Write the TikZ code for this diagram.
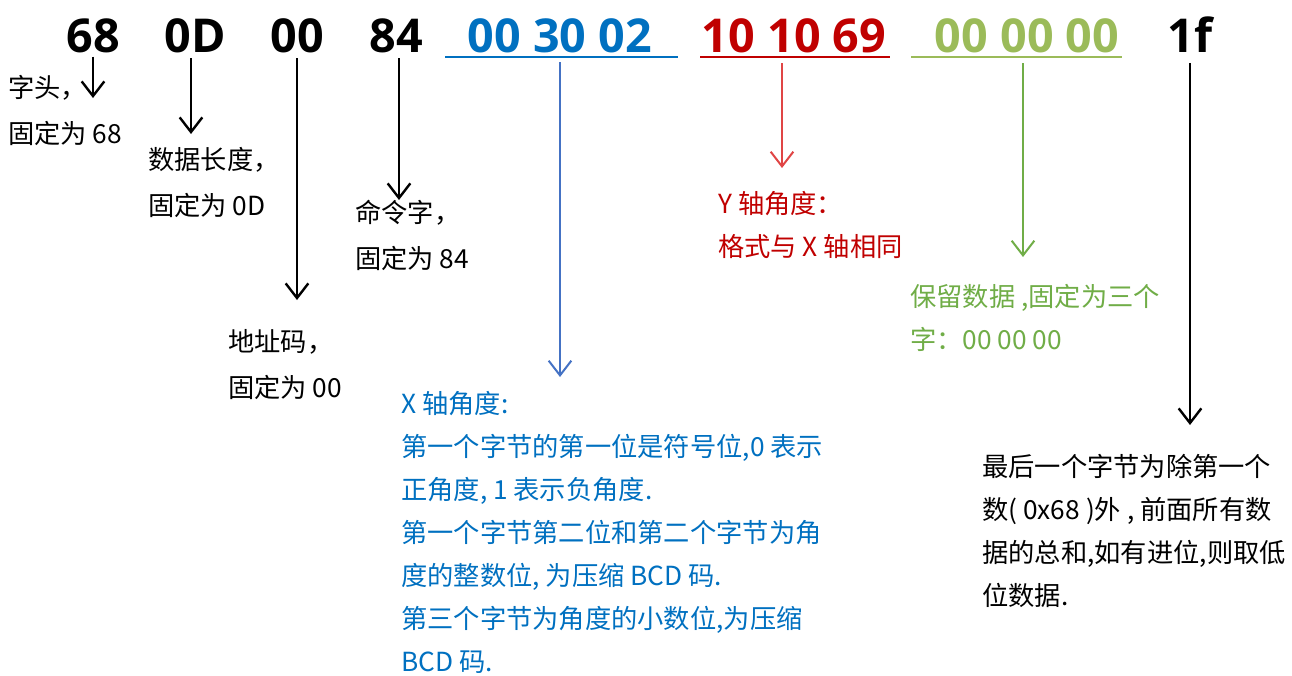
\documentclass[tikz,border=0pt]{standalone}
\usepackage{fontspec}
\setmainfont{Noto Sans CJK SC}
\newfontfamily\hexfont{Open Sans}
\usetikzlibrary{arrows.meta}
\definecolor{hexblue}{HTML}{0070C0}
\definecolor{hexred}{HTML}{C00000}
\definecolor{hexgreen}{HTML}{9BBB59}
\definecolor{notegreen}{HTML}{70AD47}
\definecolor{arrblue}{HTML}{4472C4}
\definecolor{arrred}{HTML}{E04545}

\begin{document}
\begin{tikzpicture}[x=0.75pt,y=-0.75pt,
	hex/.style={font=\hexfont\bfseries\fontsize{35}{40}\selectfont,inner sep=0,anchor=base},
	note/.style={font=\fontsize{19.7}{32.25}\selectfont,align=left,inner sep=0,anchor=north west},
	tag/.style={font=\fontsize{19.7}{34.5}\selectfont,align=left,inner sep=0,anchor=north west},
	arr/.style={line width=1.8pt,-{Straight Barb[length=11pt,width=17pt]}},
	ul/.style={line width=2.2pt}]
	\useasboundingbox (0,0) rectangle (1292,675);

	% the frame bytes
	\node[hex] (h68) at (93,52) {68};
	\node[hex] (h0D) at (195,52) {0D};
	\node[hex] (h00) at (297,52) {00};
	\node[hex] (h84) at (396,52) {84};
	\node[hex,text=hexblue] (hX) at (560,52) {00 30 02};
	\node[hex,text=hexred] (hY) at (794,52) {10 10 69};
	\node[hex,text=hexgreen] (hR) at (1027,52) {00 00 00};
	\node[hex] (hS) at (1190,52) {1f};

	\draw[ul,hexblue] (445,57) -- (678,57);
	\draw[ul,hexred] (700,57) -- (890,57);
	\draw[ul,hexgreen] (911,57) -- (1122,57);

	% arrow ends
	\coordinate (t68) at (93,98);
	\coordinate (t0D) at (191,134);
	\coordinate (t00) at (297,300);
	\coordinate (t84) at (399,200);
	\coordinate (tX) at (560,377);
	\coordinate (tY) at (782,168);
	\coordinate (tR) at (1023,257);
	\coordinate (tS) at (1190,425);

	\draw[arr,shorten <=3pt] (h68.south -| t68) -- (t68);
	\draw[arr,shorten <=4pt] (h0D.south -| t0D) -- (t0D);
	\draw[arr,shorten <=4pt] (h00.south -| t00) -- (t00);
	\draw[arr,shorten <=4pt] (h84.south -| t84) -- (t84);
	\draw[arr,arrblue,line width=1.5pt,shorten <=7pt] (hX.south -| tX) -- (tX);
	\draw[arr,arrred,line width=1.5pt,shorten <=8pt] (hY.south -| tY) -- (tY);
	\draw[arr,notegreen,line width=1.5pt,shorten <=8pt] (hR.south -| tR) -- (tR);
	\draw[arr,shorten <=8pt] (hS.south -| tS) -- (tS);

	% notes
	\node[tag] (n68) at (8,75) {字头，\\固定为 68};
	\node[tag] (n0D) at (148,147) {数据长度，\\固定为 0D};
	\node[tag] (n84) at (355,200) {命令字，\\固定为 84};
	\node[tag] (n00) at (228,329) {地址码，\\固定为 00};
	\node[note,text=hexblue] (nX) at (401,391) {X 轴角度:\\第一个字节的第一位是符号位,0 表示\\正角度, 1 表示负角度.\\第一个字节第二位和第二个字节为角\\度的整数位, 为压缩 BCD 码.\\第三个字节为角度的小数位,为压缩\\BCD 码.};
	\node[note,text=hexred] (nY) at (718,191) {Y 轴角度：\\格式与 X 轴相同};
	\node[note,text=notegreen] (nR) at (910,284) {保留数据 ,固定为三个\\字：00 00 00};
	\node[note] (nS) at (982,454) {最后一个字节为除第一个\\数( 0x68 )外 , 前面所有数\\据的总和,如有进位,则取低\\位数据.};
\end{tikzpicture}
\end{document}
